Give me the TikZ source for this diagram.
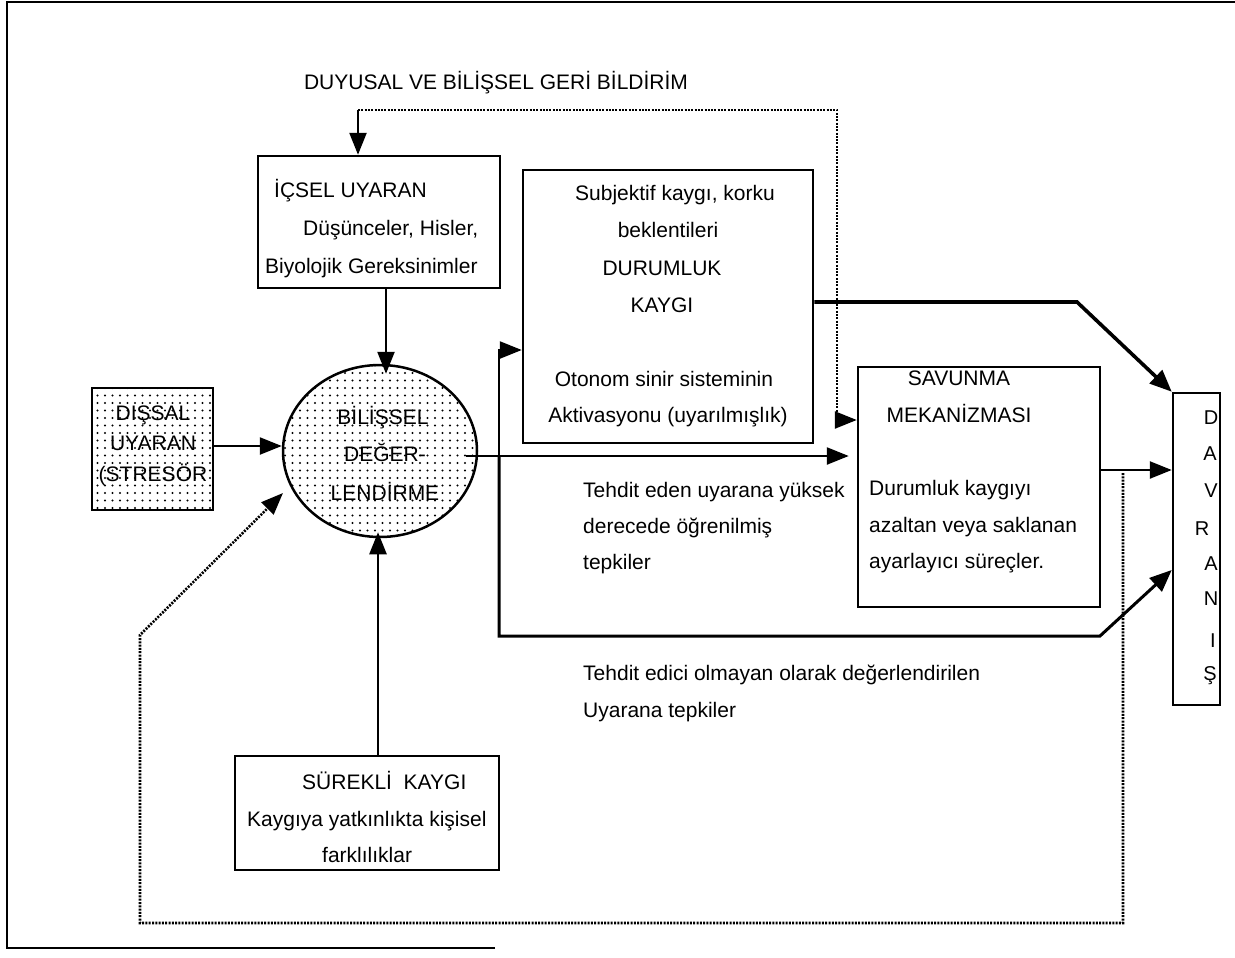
\documentclass[tikz,border=0pt]{standalone}
\usepackage{fontspec}
\setmainfont{Liberation Sans}
\usetikzlibrary{arrows.meta,shapes.geometric,patterns.meta,calc}
\begin{document}
\begin{tikzpicture}[x=1pt,y=-1pt,
  box/.style={draw,line width=2.5pt,inner sep=0pt},
  ctxt/.style={inner sep=0pt,anchor=base,font=\fontsize{21}{25}\selectfont},
  ltxt/.style={inner sep=0pt,anchor=base west,font=\fontsize{21}{25}\selectfont},
  conn/.style={line width=2.5pt},
  arr/.style={conn,-{Triangle[length=22pt,width=17pt]}},
  arrthick/.style={line width=3.6pt,-{Triangle[length=22pt,width=18pt]}},
  dotline/.style={line width=2.6pt,dash pattern=on 2pt off 1.3pt},
  dotfill/.style={pattern={Dots[distance=7.5pt,radius=1.1pt]}},
  frame/.style={line width=2pt}]
\useasboundingbox (0,0) rectangle (1235,958);
\fill[white] (0,0) rectangle (1235,958);
\draw[frame] (495,948) -- (7,948) -- (7,2) -- (1235,2);

% boxes
\node[box,minimum width=242pt,minimum height=132pt] (ic) at (379,222) {};
\node[box,minimum width=290pt,minimum height=273pt] (subj) at (668,306.5) {};
\node[box,dotfill,minimum width=121pt,minimum height=122pt] (dis) at (152.5,449) {};
\node[draw,line width=2.5pt,ellipse,dotfill,minimum width=194pt,minimum height=172pt,inner sep=0pt] (ell) at (380,451) {};
\node[box,minimum width=264pt,minimum height=114pt] (sur) at (367,813) {};
\node[box,minimum width=242pt,minimum height=240pt] (sav) at (979,487) {};
\node[box,minimum width=47pt,minimum height=312pt] (dav) at (1196.5,549) {};

% texts
\node[ctxt] (title) at (496,90) {DUYUSAL VE BİLİŞSEL GERİ BİLDİRİM};
\node[ltxt] (ic1) at (274,197) {İÇSEL UYARAN};
\node[ltxt] (ic2) at (303,235) {Düşünceler, Hisler,};
\node[ltxt] (ic3) at (265,273) {Biyolojik Gereksinimler};
\node[ctxt] (s1) at (675,200) {Subjektif kaygı, korku};
\node[ctxt] (s2) at (668,237) {beklentileri};
\node[ctxt] (s3) at (662,275) {DURUMLUK};
\node[ctxt] (s4) at (662,312) {KAYGI};
\node[ctxt] (s5) at (664,386) {Otonom sinir sisteminin};
\node[ctxt] (s6) at (668,422) {Aktivasyonu (uyarılmışlık)};
\node[ctxt] (d1) at (153,420) {DIŞSAL};
\node[ctxt] (d2) at (153,450) {UYARAN};
\node[ctxt] (d3) at (153,481) {(STRESÖR};
\node[ctxt] (e1) at (383,424) {BİLİŞSEL};
\node[ctxt] (e2) at (385,461) {DEĞER-};
\node[ctxt] (e3) at (385,500) {LENDİRME};
\node[ctxt] (v1) at (959,385) {SAVUNMA};
\node[ctxt] (v2) at (959,422) {MEKANİZMASI};
\node[ltxt] (v3) at (869,495) {Durumluk kaygıyı};
\node[ltxt] (v4) at (869,532) {azaltan veya saklanan};
\node[ltxt] (v5) at (869,568) {ayarlayıcı süreçler.};
\node[ltxt] (u1) at (583,497) {Tehdit eden uyarana yüksek};
\node[ltxt] (u2) at (583,533) {derecede öğrenilmiş};
\node[ltxt] (u3) at (583,569) {tepkiler};
\node[ltxt] (n1) at (583,680) {Tehdit edici olmayan olarak değerlendirilen};
\node[ltxt] (n2) at (583,717) {Uyarana tepkiler};
\node[ltxt] (k1) at (302,789) {SÜREKLİ\ \ KAYGI};
\node[ltxt] (k2) at (247,826) {Kaygıya yatkınlıkta kişisel};
\node[ltxt] (k3) at (322,862) {farklılıklar};
\foreach \i/\l/\x/\y in {1/D/1211/424,2/A/1210/460,3/V/1211/497,4/R/1202/535,5/A/1211/570,6/N/1211/605,7/I/1213/647,8/Ş/1210/680}
  \node[ctxt,font=\fontsize{20}{24}\selectfont] (dl\i) at (\x,\y) {\l};

% helper coordinates
\coordinate (fbR) at (837,420);
\coordinate (fbT) at (837,110);
\coordinate (fbL) at (358,110);
\coordinate (icx) at (386,0);
\coordinate (disy) at (0,446);
\coordinate (surx) at (378,0);
\coordinate (my) at (0,456);
\coordinate (jn) at (499,456);
\coordinate (uy) at (0,350);
\coordinate (dy) at (0,636);
\coordinate (dbend) at (1100,636);
\coordinate (davlow) at (0,570);
\coordinate (sy) at (0,302);
\coordinate (sbend) at (1077,302);
\coordinate (ay) at (0,470);
\coordinate (l1) at (1123,473);
\coordinate (l2) at (1123,923);
\coordinate (l3) at (140,923);
\coordinate (l4) at (140,635);
\coordinate (ellfb) at (283,493);

% connectors
\draw[dotline] (fbL) -- (fbT) -- (fbR);
\draw[arr] (fbL) -- (fbL |- ic.north);
\draw[arr] (fbR) -- (fbR -| sav.west);
\draw[arr,shorten >=-10pt] (ic.south -| icx) -- (ell.north -| icx);
\draw[arr] (dis.east |- disy) -- (ell.west |- disy);
\draw[arr,shorten >=-6pt] (sur.north -| surx) -- (ell.south -| surx);
\draw[arr,shorten <=-12pt,shorten >=8pt] (ell.east |- my) -- (sav.west |- my);
\draw[arr] (jn) -- (jn |- uy) -- (subj.west |- uy);
\draw[line width=3pt,-{Triangle[length=22pt,width=18pt]}] (jn) -- (jn |- dy) -- (dbend) -- (dav.west |- davlow);
\draw[arrthick] (subj.east |- sy) -- (sbend) -- (dav.north west);
\draw[arr] (sav.east |- ay) -- (dav.west |- ay);
\draw[dotline,-{Triangle[length=22pt,width=17pt]}] (l1) -- (l2) -- (l3) -- (l4) -- (ellfb);
\end{tikzpicture}
\end{document}
